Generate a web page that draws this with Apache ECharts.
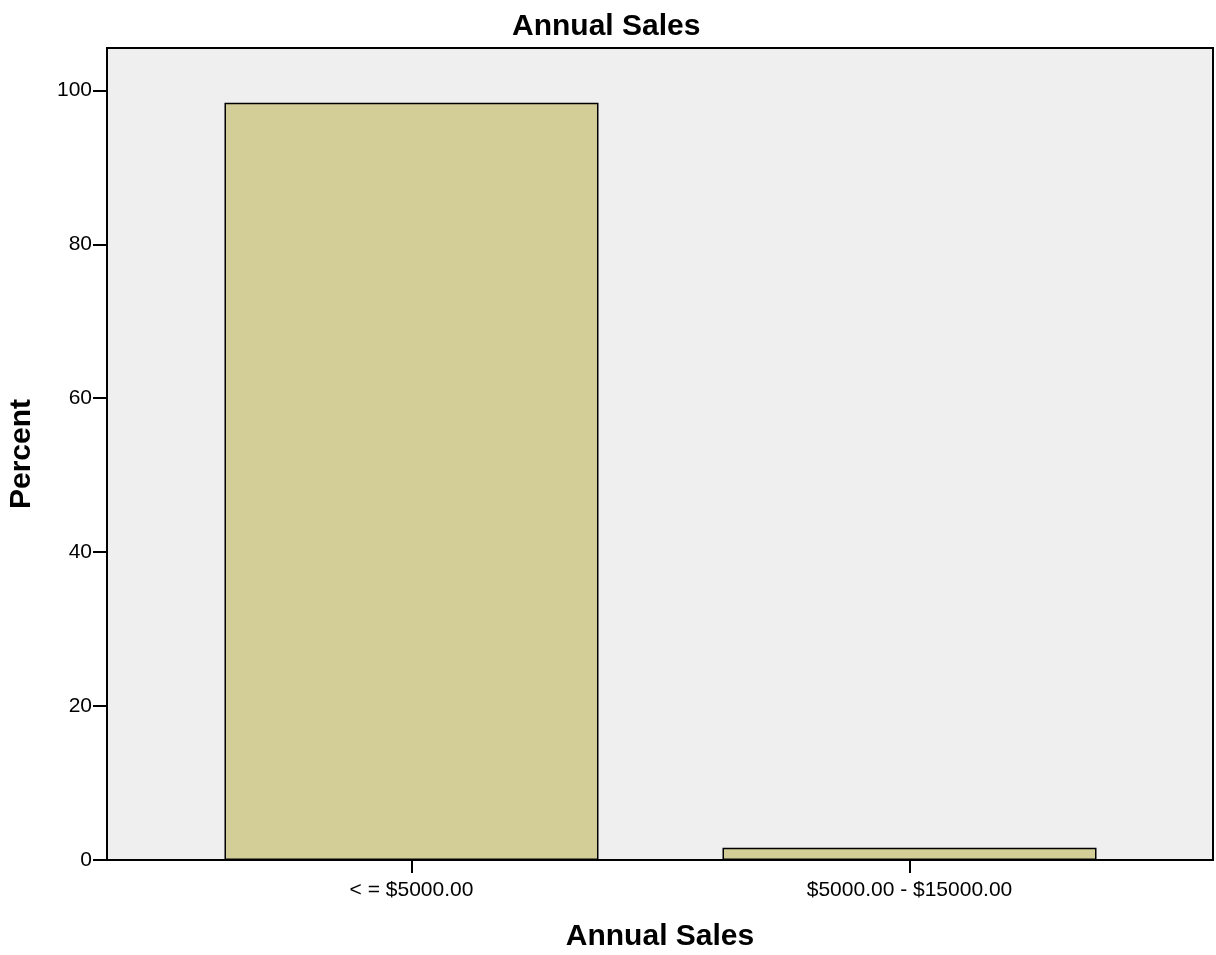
<!DOCTYPE html>
<html>
<head>
<meta charset="utf-8">
<script src="https://cdn.jsdelivr.net/npm/echarts@6/dist/echarts.min.js"></script>
<style>
html,body{margin:0;padding:0;background:#fff;}
#chart{width:1216px;height:955px;}
</style>
</head>
<body>
<div id="chart"></div>
<script>
var categories = ['< = $5000.00', '$5000.00 - $15000.00'];
var percentValues = [98.4, 1.6];
var yTickValues = [0, 20, 40, 60, 80, 100];
var chartTitle = 'Annual Sales';
var xAxisTitle = 'Annual Sales';
var yAxisTitle = 'Percent';

var chart = echarts.init(document.getElementById('chart'), null, {renderer: 'canvas'});
var font = 'Liberation Sans, Arial, Helvetica, sans-serif';
var catIdx = categories.map(function (c, i) { return i; });

chart.setOption({
  animation: false,
  backgroundColor: '#ffffff',
  title: {
    text: chartTitle,
    left: 507,
    top: 7,
    textStyle: {fontFamily: font, fontSize: 30, fontWeight: 'bold', color: '#000'}
  },
  grid: {
    left: 107, top: 48, width: 1106, height: 812,
    show: true, backgroundColor: '#efefef', borderColor: '#000', borderWidth: 2,
    containLabel: false,
    outerBoundsMode: 'none'
  },
  xAxis: {
    type: 'value',
    min: -0.6114, max: 1.6094,
    name: xAxisTitle,
    nameLocation: 'middle',
    nameGap: 62,
    nameTextStyle: {fontFamily: font, fontSize: 30, fontWeight: 'bold', color: '#000'},
    axisLine: {show: true, onZero: false, lineStyle: {color: '#000', width: 2}},
    axisTick: {show: true, customValues: catIdx, length: 13, lineStyle: {color: '#000', width: 2}},
    axisLabel: {
      customValues: catIdx,
      fontFamily: font, fontSize: 21, color: '#000', margin: 20,
      formatter: function (v) { return categories[Math.round(v)]; }
    },
    splitLine: {show: false}
  },
  yAxis: {
    type: 'value',
    min: 0, max: 105.5,
    name: yAxisTitle,
    nameLocation: 'middle',
    nameGap: 70,
    nameRotate: 90,
    nameTextStyle: {fontFamily: font, fontSize: 30, fontWeight: 'bold', color: '#000'},
    axisLine: {show: true, onZero: false, lineStyle: {color: '#000', width: 2}},
    axisTick: {show: true, customValues: yTickValues, length: 14, lineStyle: {color: '#000', width: 2}},
    axisLabel: {customValues: yTickValues, fontFamily: font, fontSize: 21, color: '#000', margin: 15, padding: [6, 0, 0, 0]},
    splitLine: {show: false}
  },
  series: [{
    type: 'bar',
    barWidth: 374,
    data: percentValues.map(function (v, i) { return [i, v]; }),
    itemStyle: {color: '#d3ce98', borderColor: '#000', borderWidth: 1.5}
  }]
});
</script>
</body>
</html>
